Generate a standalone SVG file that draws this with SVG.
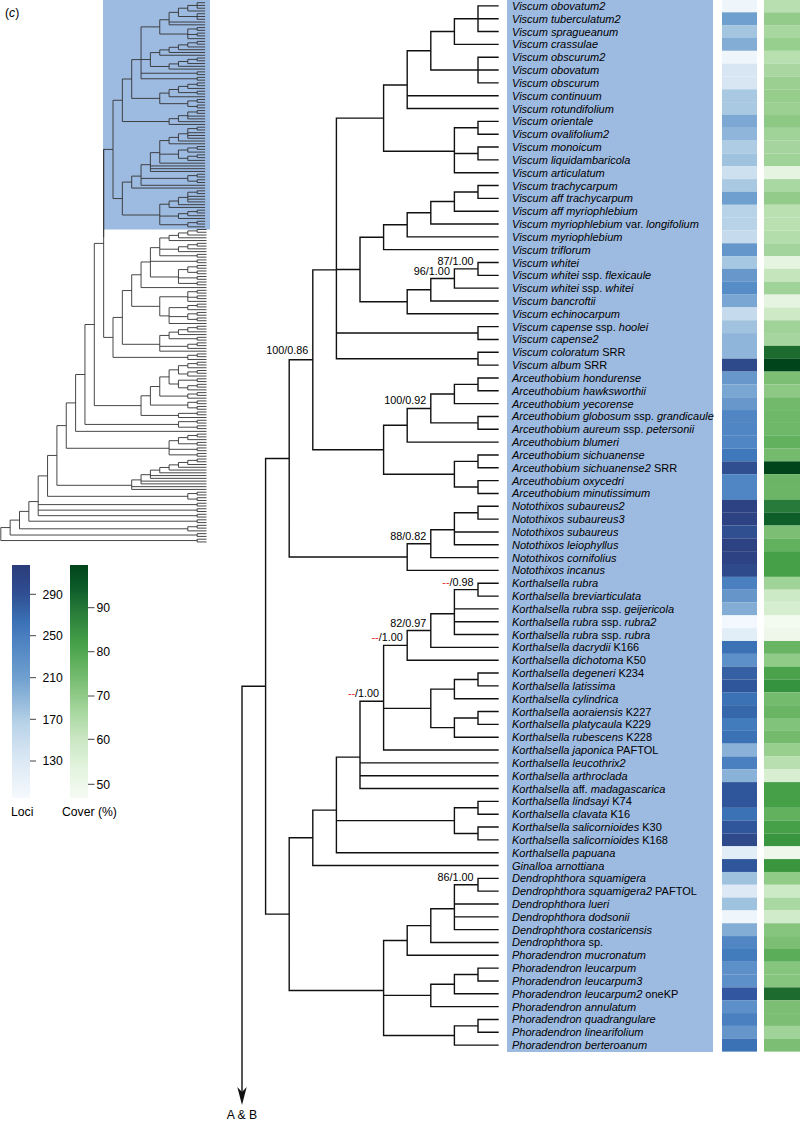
<svg xmlns="http://www.w3.org/2000/svg" width="800" height="1121" viewBox="0 0 800 1121">
<style>
.tx{font-family:"Liberation Sans",Arial,sans-serif;font-size:11px;font-style:italic;fill:#000}
.u{font-style:normal}
.sl{font-family:"Liberation Sans",Arial,sans-serif;font-size:10.8px;fill:#000;text-anchor:end}
.rd{fill:#e3221b}
.lg{font-family:"Liberation Sans",Arial,sans-serif;font-size:12.2px;fill:#000}
.tick{stroke:#444;stroke-width:1}
</style>
<defs>
<linearGradient id="gB" x1="0" y1="0" x2="0" y2="1">
<stop offset="0" stop-color="#2b3c7a"/><stop offset="0.12" stop-color="#2f4e91"/><stop offset="0.24" stop-color="#3a70b5"/><stop offset="0.31" stop-color="#4a80c0"/><stop offset="0.48" stop-color="#6f9fcf"/><stop offset="0.59" stop-color="#96bbdc"/><stop offset="0.68" stop-color="#b8d3e8"/><stop offset="0.82" stop-color="#d8e6f3"/><stop offset="1" stop-color="#f5f9fd"/>
</linearGradient>
<linearGradient id="gG" x1="0" y1="0" x2="0" y2="1">
<stop offset="0" stop-color="#00441b"/><stop offset="0.107" stop-color="#0e5e2a"/><stop offset="0.206" stop-color="#2a7d3a"/><stop offset="0.335" stop-color="#45a048"/><stop offset="0.48" stop-color="#74bb6e"/><stop offset="0.608" stop-color="#a0d398"/><stop offset="0.737" stop-color="#c8e6c0"/><stop offset="0.866" stop-color="#e2f3dd"/><stop offset="1" stop-color="#f5fbf3"/>
</linearGradient>
<path id="C2" d="M-9.35 0H0M-9.35 2.765H0M-9.35 0V2.765"/>
<path id="P3" d="M-9.35 0H0M-9.35 2.765H0M-9.35 0V2.765M-18.7 1.383H-9.35M-18.7 5.53H0M-18.7 1.383V5.53"/>
<path id="P4" d="M-9.35 0H0M-9.35 2.765H0M-9.35 0V2.765M-18.7 1.383H-9.35M-18.7 5.53H0M-18.7 1.383V5.53M-28.05 3.456H-18.7M-28.05 8.295H0M-28.05 3.456V8.295"/>
<path id="P5" d="M-9.35 0H0M-9.35 2.765H0M-9.35 0V2.765M-18.7 1.383H-9.35M-18.7 5.53H0M-18.7 1.383V5.53M-28.05 3.456H-18.7M-28.05 8.295H0M-28.05 3.456V8.295M-37.4 5.876H-28.05M-37.4 11.06H0M-37.4 5.876V11.06"/>
<path id="Q4" d="M-9.35 0H0M-9.35 2.765H0M-9.35 0V2.765M-9.35 5.53H0M-9.35 8.295H0M-9.35 5.53V8.295M-18.7 1.383H-9.35M-18.7 6.913H-9.35M-18.7 1.383V6.913"/>
</defs>

<rect x="0" y="0" width="800" height="1121" fill="#fff"/>

<!-- thumbnail -->
<g id="thumbnail">
<rect x="103" y="0" width="107" height="229.5" fill="#9dbae1"/>
<text class="lg" x="5" y="17">(<tspan font-style="italic">c</tspan>)</text>
</g>

<!-- main background -->
<rect id="clade-bg" x="507" y="0" width="206" height="1052" fill="#9dbae1"/>

<g id="connectors" fill="none">
<g stroke="#111" stroke-width="1.4" stroke-linecap="square">
<path id="tree" vector-effect="non-scaling-stroke" d="M478 5.9V31.56M454.4 18.73V44.39M478 57.22V82.88M430.8 31.56V70.05M407.2 50.805V108.54M478 121.37V134.2M478 147.03V159.86M454.4 127.785V172.69M383.6 85.02V151.31M478 185.52V198.35M454.4 191.935V211.18M430.8 201.56V224.01M407.2 212.785V236.84M383.6 224.81V249.67M478 262.5V275.33M454.4 268.915V288.16M430.8 278.54V300.99M407.2 289.765V313.82M360 237.24V301.79M478 326.65V339.48M478 352.31V365.14M336.4 118.165V358.725M478 377.97V390.8M454.4 384.385V403.63M478 416.46V429.29M430.8 394.01V422.875M407.2 408.44V442.12M478 454.95V467.78M478 480.61V493.44M454.4 461.365V487.025M383.6 425.28V474.195M312.8 269.87V449.74M478 506.27V519.1M454.4 512.685V544.76M430.8 529.79V557.59M407.2 543.69V570.42M289.2 359.805V557.055M478 583.25V596.08M454.4 589.665V634.57M430.8 613.72V647.4M407.2 630.56V660.23M478 673.06V685.89M454.4 679.475V698.72M478 711.55V724.38M454.4 717.965V737.21M430.8 689.1V727.59M383.6 645.395V750.04M360 701.26V788.53M478 801.36V814.19M478 827.02V839.85M454.4 807.775V833.435M336.4 757.09V852.68M312.8 810.125V865.51M478 878.34V891.17M454.4 884.755V929.66M430.8 908.81V942.49M407.2 925.65V955.32M478 968.15V980.98M454.4 974.565V993.81M430.8 984.19V1006.64M478 1019.47V1032.3M454.4 1025.885V1045.13M383.6 940.485V1035.51M289.2 837.82V990.47M265.6 458.43V914.145M242 686.29V1093
M454.4 18.73H478M430.8 31.56H454.4M430.8 70.05H478M407.2 50.805H430.8M383.6 85.02H407.2M454.4 127.785H478M454.4 153.445H478M383.6 151.31H454.4M336.4 118.165H383.6M454.4 191.935H478M430.8 201.56H454.4M407.2 212.785H430.8M383.6 224.81H407.2M360 237.24H383.6M454.4 268.915H478M430.8 278.54H454.4M407.2 289.765H430.8M360 301.79H407.2M336.4 269.515H360M336.4 333.065H478M336.4 358.725H478M312.8 269.87H336.4M454.4 384.385H478M430.8 394.01H454.4M430.8 422.875H478M407.2 408.44H430.8M383.6 425.28H407.2M454.4 461.365H478M454.4 487.025H478M383.6 474.195H454.4M312.8 449.74H383.6M289.2 359.805H312.8M454.4 512.685H478M430.8 529.79H454.4M407.2 543.69H430.8M289.2 557.055H407.2M265.6 458.43H289.2M454.4 589.665H478M430.8 613.72H454.4M407.2 630.56H430.8M383.6 645.395H407.2M454.4 679.475H478M430.8 689.1H454.4M454.4 717.965H478M430.8 727.59H454.4M383.6 708.345H430.8M360 701.26H383.6M336.4 757.09H360M454.4 807.775H478M454.4 833.435H478M336.4 820.605H454.4M312.8 810.125H336.4M289.2 837.82H312.8M454.4 884.755H478M430.8 908.81H454.4M407.2 925.65H430.8M383.6 940.485H407.2M454.4 974.565H478M430.8 984.19H454.4M383.6 995.415H430.8M454.4 1025.885H478M383.6 1035.51H454.4M289.2 990.47H383.6M265.6 914.145H289.2M242 686.29H265.6
M478 5.9H498M478 18.73H498M478 31.56H498M454.4 44.39H498M478 57.22H498M478 70.05H498M478 82.88H498M407.2 95.71H498M407.2 108.54H498M478 121.37H498M478 134.2H498M478 147.03H498M478 159.86H498M454.4 172.69H498M478 185.52H498M478 198.35H498M454.4 211.18H498M430.8 224.01H498M407.2 236.84H498M383.6 249.67H498M478 262.5H498M478 275.33H498M454.4 288.16H498M430.8 300.99H498M407.2 313.82H498M478 326.65H498M478 339.48H498M478 352.31H498M478 365.14H498M478 377.97H498M478 390.8H498M454.4 403.63H498M478 416.46H498M478 429.29H498M407.2 442.12H498M478 454.95H498M478 467.78H498M478 480.61H498M478 493.44H498M478 506.27H498M478 519.1H498M454.4 531.93H498M454.4 544.76H498M430.8 557.59H498M407.2 570.42H498M478 583.25H498M478 596.08H498M454.4 608.91H498M454.4 621.74H498M454.4 634.57H498M430.8 647.4H498M407.2 660.23H498M478 673.06H498M478 685.89H498M454.4 698.72H498M478 711.55H498M478 724.38H498M454.4 737.21H498M383.6 750.04H498M360 762.87H498M360 775.7H498M360 788.53H498M478 801.36H498M478 814.19H498M478 827.02H498M478 839.85H498M336.4 852.68H498M312.8 865.51H498M478 878.34H498M478 891.17H498M454.4 904H498M454.4 916.83H498M454.4 929.66H498M430.8 942.49H498M407.2 955.32H498M478 968.15H498M478 980.98H498M454.4 993.81H498M430.8 1006.64H498M478 1019.47H498M478 1032.3H498M454.4 1045.13H498"/>
</g>
<polygon id="arrowhead" points="242,1105 237.3,1087 242,1092 246.7,1087" fill="#111"/>
<g id="thumb-tree" stroke="#333" stroke-width="0.9">
<use href="#tree" transform="matrix(0.3962 0 0 0.21566 7.77 1.406)"/>
<path d="M94.3 243.4H103.65M103.65 149.4V337.4M103.65 337.4H113M113 317.43V357.38M113 317.43H122.35M113 357.38H187.8M122.35 290.55V344.3M122.35 290.55H131.7M122.35 344.3H159.75M131.7 274.77V306.34M131.7 274.77H141.05M131.7 306.34H159.75M141.05 261.97V287.565M141.05 261.97H150.4M141.05 287.565H206.5M150.4 247.65V276.97M150.4 247.65H159.75M150.4 261.3H197.15M150.4 276.97H178.45M159.75 237.97V255.77M159.75 237.97H169.1M159.75 249.2H178.45M159.75 255.77H197.15M178.45 269.59V283.42M178.45 269.59H187.8M178.45 277.89H197.15M178.45 283.42H197.15M159.75 296.78V315.9M159.75 296.78H187.8M159.75 315.9H169.1M187.8 291.71V301.39M187.8 291.71H197.15M187.8 297.24H197.15M187.8 301.39H206.5M169.1 307.61V323.51M169.1 307.61H187.8M169.1 316.6H187.8M169.1 323.51H206.5M159.75 335.43V351.16M159.75 335.43H169.1M159.75 346.32H187.8M159.75 351.16H206.5M169.1 332.15V338.72M169.1 332.15H178.45M169.1 338.72H197.15
M94.3 243.4V405.6M94.3 405.6H141.05M141.05 395.8V415.45M141.05 395.8H150.4M141.05 415.45H178.45M150.4 386.5V405.08M150.4 386.5H159.75M150.4 405.08H187.8M159.75 376.9V396.09M159.75 376.9H169.1M159.75 396.09H187.8M169.1 369.83V384M169.1 369.83H178.45M169.1 384H178.45M178.45 365.68V373.97M178.45 365.68H187.8M178.45 373.97H187.8M178.45 380.19V387.8M178.45 380.19H197.15M178.45 387.8H187.8M178.45 413.37V417.52M178.45 413.37H197.15M178.45 417.52H206.5
M84.95 324.5V424.43M84.95 324.5H94.3M84.95 424.43H178.45M178.45 421.67V427.2M178.45 421.67H197.15M178.45 427.2H197.15M75.6 374.5V431.345M75.6 374.5H84.95M75.6 431.345H206.5M169.1 440.68V454.85M169.1 440.68H178.45M169.1 449.32H197.15M169.1 454.85H197.15M178.45 437.57V443.79M178.45 437.57H187.8M178.45 443.79H197.15M187.8 435.49V439.64M187.8 435.49H197.15M187.8 439.64H206.5M197.15 434.11V436.875M197.15 434.11H206.5M197.15 436.875H206.5M66.25 402.9V448.28M66.25 402.9H75.6M66.25 448.28H169.1
M197.15 459V461.76M197.15 459H206.5M197.15 461.76H206.5M187.8 460.38V464.525M187.8 460.38H197.15M187.8 464.525H206.5M178.45 462.45V467.29M178.45 462.45H187.8M178.45 467.29H206.5M169.1 464.87V470.055M169.1 464.87H178.45M169.1 470.055H206.5M159.75 467.46V472.82M159.75 467.46H169.1M159.75 472.82H206.5M150.4 470.14V478.35M150.4 470.14H159.75M150.4 475.585H206.5M150.4 478.35H206.5M141.05 474.69V483.88M141.05 474.69H150.4M141.05 481.115H206.5M141.05 483.88H206.5M131.7 479.9V489.41M131.7 479.9H141.05M131.7 486.645H206.5M131.7 489.41H206.5
M56.9 425.6V485.3M56.9 425.6H66.25M56.9 485.3H131.7M47.55 455.45V496.32M47.55 455.45H56.9M47.55 496.32H187.8M38.2 475.9V515.68M38.2 475.9H47.55M38.2 504.62H197.15M38.2 510.15H197.15M38.2 515.68H197.15M28.85 501.59V521.21M28.85 501.59H38.2M28.85 521.21H197.15M19.5 511.4V528.81M19.5 511.4H28.85M19.5 528.81H187.8M10.15 520.1V535.03M10.15 520.1H19.5M10.15 535.03H197.15M0.8 527.57V540.56M0.8 527.57H10.15M0.8 540.56H197.15"/>
<use href="#P5" x="206.5" y="229.5"/>
<use href="#P4" x="206.5" y="243.325"/><use href="#P4" x="206.5" y="326.275"/>
<use href="#C2" x="206.5" y="254.385"/><use href="#C2" x="206.5" y="259.915"/><use href="#C2" x="206.5" y="276.505"/><use href="#C2" x="206.5" y="282.035"/><use href="#C2" x="206.5" y="290.33"/><use href="#C2" x="206.5" y="295.86"/><use href="#C2" x="206.5" y="337.335"/><use href="#C2" x="206.5" y="378.81"/><use href="#C2" x="206.5" y="411.99"/><use href="#C2" x="206.5" y="420.285"/><use href="#C2" x="206.5" y="425.815"/><use href="#C2" x="206.5" y="442.405"/><use href="#C2" x="206.5" y="447.935"/><use href="#C2" x="206.5" y="453.465"/><use href="#C2" x="206.5" y="503.235"/><use href="#C2" x="206.5" y="508.765"/><use href="#C2" x="206.5" y="514.295"/><use href="#C2" x="206.5" y="519.825"/><use href="#C2" x="206.5" y="533.65"/><use href="#C2" x="206.5" y="539.18"/>
<use href="#Q4" x="206.5" y="265.445"/><use href="#Q4" x="206.5" y="312.45"/><use href="#Q4" x="206.5" y="400.93"/><use href="#Q4" x="206.5" y="492.175"/>
<use href="#P3" x="206.5" y="304.155"/><use href="#P3" x="206.5" y="342.865"/><use href="#P3" x="206.5" y="353.925"/><use href="#P3" x="206.5" y="362.22"/><use href="#P3" x="206.5" y="370.515"/><use href="#P3" x="206.5" y="384.34"/><use href="#P3" x="206.5" y="392.635"/><use href="#P3" x="206.5" y="525.355"/>
</g>
</g>

<g id="support-labels">
<text class="sl" x="473.5" y="265">87/1.00</text>
<text class="sl" x="449.9" y="274.5">96/1.00</text>
<text class="sl" x="308.3" y="353.5">100/0.86</text>
<text class="sl" x="426.3" y="404.4">100/0.92</text>
<text class="sl" x="426.3" y="539.7">88/0.82</text>
<text class="sl" x="473.5" y="585.7"><tspan class="rd">--</tspan>/0.98</text>
<text class="sl" x="426.3" y="626.6">82/0.97</text>
<text class="sl" x="402.7" y="641.4"><tspan class="rd">--</tspan>/1.00</text>
<text class="sl" x="379.1" y="697.3"><tspan class="rd">--</tspan>/1.00</text>
<text class="sl" x="473.5" y="880.8">86/1.00</text>
</g>

<g id="taxa">
<g id="t0" transform="translate(0,5.9)"><text class="tx" x="512" y="4">Viscum obovatum2</text><rect x="722" y="-6.42" width="35" height="12.9" fill="#eef5fb"/><rect x="764" y="-6.42" width="36" height="12.9" fill="#b8dfb0"/></g>
<g id="t1" transform="translate(0,18.73)"><text class="tx" x="512" y="4">Viscum tuberculatum2</text><rect x="722" y="-6.42" width="35" height="12.9" fill="#6f9fcf"/><rect x="764" y="-6.42" width="36" height="12.9" fill="#93cc8a"/></g>
<g id="t2" transform="translate(0,31.56)"><text class="tx" x="512" y="4">Viscum spragueanum</text><rect x="722" y="-6.42" width="35" height="12.9" fill="#a3c5e0"/><rect x="764" y="-6.42" width="36" height="12.9" fill="#a8d8a0"/></g>
<g id="t3" transform="translate(0,44.39)"><text class="tx" x="512" y="4">Viscum crassulae</text><rect x="722" y="-6.42" width="35" height="12.9" fill="#84add6"/><rect x="764" y="-6.42" width="36" height="12.9" fill="#97cf8f"/></g>
<g id="t4" transform="translate(0,57.22)"><text class="tx" x="512" y="4">Viscum obscurum2</text><rect x="722" y="-6.42" width="35" height="12.9" fill="#eef5fb"/><rect x="764" y="-6.42" width="36" height="12.9" fill="#b8dfb0"/></g>
<g id="t5" transform="translate(0,70.05)"><text class="tx" x="512" y="4">Viscum obovatum</text><rect x="722" y="-6.42" width="35" height="12.9" fill="#d8e6f3"/><rect x="764" y="-6.42" width="36" height="12.9" fill="#a9d6a1"/></g>
<g id="t6" transform="translate(0,82.88)"><text class="tx" x="512" y="4">Viscum obscurum</text><rect x="722" y="-6.42" width="35" height="12.9" fill="#d8e6f3"/><rect x="764" y="-6.42" width="36" height="12.9" fill="#9acf91"/></g>
<g id="t7" transform="translate(0,95.71)"><text class="tx" x="512" y="4">Viscum continuum</text><rect x="722" y="-6.42" width="35" height="12.9" fill="#a9c9e2"/><rect x="764" y="-6.42" width="36" height="12.9" fill="#96cd8c"/></g>
<g id="t8" transform="translate(0,108.54)"><text class="tx" x="512" y="4">Viscum rotundifolium</text><rect x="722" y="-6.42" width="35" height="12.9" fill="#a9c9e2"/><rect x="764" y="-6.42" width="36" height="12.9" fill="#9bd092"/></g>
<g id="t9" transform="translate(0,121.37)"><text class="tx" x="512" y="4">Viscum orientale</text><rect x="722" y="-6.42" width="35" height="12.9" fill="#7ea8d4"/><rect x="764" y="-6.42" width="36" height="12.9" fill="#8dc985"/></g>
<g id="t10" transform="translate(0,134.2)"><text class="tx" x="512" y="4">Viscum ovalifolium2</text><rect x="722" y="-6.42" width="35" height="12.9" fill="#8fb6da"/><rect x="764" y="-6.42" width="36" height="12.9" fill="#9fd397"/></g>
<g id="t11" transform="translate(0,147.03)"><text class="tx" x="512" y="4">Viscum monoicum</text><rect x="722" y="-6.42" width="35" height="12.9" fill="#aecde4"/><rect x="764" y="-6.42" width="36" height="12.9" fill="#a5d49e"/></g>
<g id="t12" transform="translate(0,159.86)"><text class="tx" x="512" y="4">Viscum liquidambaricola</text><rect x="722" y="-6.42" width="35" height="12.9" fill="#9fc2df"/><rect x="764" y="-6.42" width="36" height="12.9" fill="#a0d398"/></g>
<g id="t13" transform="translate(0,172.69)"><text class="tx" x="512" y="4">Viscum articulatum</text><rect x="722" y="-6.42" width="35" height="12.9" fill="#cde0ef"/><rect x="764" y="-6.42" width="36" height="12.9" fill="#e5f4e1"/></g>
<g id="t14" transform="translate(0,185.52)"><text class="tx" x="512" y="4">Viscum trachycarpum</text><rect x="722" y="-6.42" width="35" height="12.9" fill="#a9c9e2"/><rect x="764" y="-6.42" width="36" height="12.9" fill="#aad8a3"/></g>
<g id="t15" transform="translate(0,198.35)"><text class="tx" x="512" y="4">Viscum aff trachycarpum</text><rect x="722" y="-6.42" width="35" height="12.9" fill="#6f9fcf"/><rect x="764" y="-6.42" width="36" height="12.9" fill="#93cc8a"/></g>
<g id="t16" transform="translate(0,211.18)"><text class="tx" x="512" y="4">Viscum aff myriophlebium</text><rect x="722" y="-6.42" width="35" height="12.9" fill="#b8d3e8"/><rect x="764" y="-6.42" width="36" height="12.9" fill="#bae0b2"/></g>
<g id="t17" transform="translate(0,224.01)"><text class="tx" x="512" y="4">Viscum myriophlebium <tspan class="u">var.</tspan> longifolium</text><rect x="722" y="-6.42" width="35" height="12.9" fill="#b8d3e8"/><rect x="764" y="-6.42" width="36" height="12.9" fill="#bae0b2"/></g>
<g id="t18" transform="translate(0,236.84)"><text class="tx" x="512" y="4">Viscum myriophlebium</text><rect x="722" y="-6.42" width="35" height="12.9" fill="#c5dbed"/><rect x="764" y="-6.42" width="36" height="12.9" fill="#b4ddac"/></g>
<g id="t19" transform="translate(0,249.67)"><text class="tx" x="512" y="4">Viscum triflorum</text><rect x="722" y="-6.42" width="35" height="12.9" fill="#6496cb"/><rect x="764" y="-6.42" width="36" height="12.9" fill="#a4d49d"/></g>
<g id="t20" transform="translate(0,262.5)"><text class="tx" x="512" y="4">Viscum whitei</text><rect x="722" y="-6.42" width="35" height="12.9" fill="#a6c7e1"/><rect x="764" y="-6.42" width="36" height="12.9" fill="#e5f4e1"/></g>
<g id="t21" transform="translate(0,275.33)"><text class="tx" x="512" y="4">Viscum whitei <tspan class="u">ssp.</tspan> flexicaule</text><rect x="722" y="-6.42" width="35" height="12.9" fill="#6898cb"/><rect x="764" y="-6.42" width="36" height="12.9" fill="#c5e5bd"/></g>
<g id="t22" transform="translate(0,288.16)"><text class="tx" x="512" y="4">Viscum whitei <tspan class="u">ssp.</tspan> whitei</text><rect x="722" y="-6.42" width="35" height="12.9" fill="#578dc6"/><rect x="764" y="-6.42" width="36" height="12.9" fill="#a0d398"/></g>
<g id="t23" transform="translate(0,300.99)"><text class="tx" x="512" y="4">Viscum bancroftii</text><rect x="722" y="-6.42" width="35" height="12.9" fill="#7aa6d3"/><rect x="764" y="-6.42" width="36" height="12.9" fill="#e5f4e1"/></g>
<g id="t24" transform="translate(0,313.82)"><text class="tx" x="512" y="4">Viscum echinocarpum</text><rect x="722" y="-6.42" width="35" height="12.9" fill="#c5dbed"/><rect x="764" y="-6.42" width="36" height="12.9" fill="#cde9c6"/></g>
<g id="t25" transform="translate(0,326.65)"><text class="tx" x="512" y="4">Viscum capense <tspan class="u">ssp.</tspan> hoolei</text><rect x="722" y="-6.42" width="35" height="12.9" fill="#a1c3df"/><rect x="764" y="-6.42" width="36" height="12.9" fill="#a0d398"/></g>
<g id="t26" transform="translate(0,339.48)"><text class="tx" x="512" y="4">Viscum capense2</text><rect x="722" y="-6.42" width="35" height="12.9" fill="#8fb6da"/><rect x="764" y="-6.42" width="36" height="12.9" fill="#a6d59f"/></g>
<g id="t27" transform="translate(0,352.31)"><text class="tx" x="512" y="4">Viscum coloratum <tspan class="u">SRR</tspan></text><rect x="722" y="-6.42" width="35" height="12.9" fill="#8fb6da"/><rect x="764" y="-6.42" width="36" height="12.9" fill="#1e6b30"/></g>
<g id="t28" transform="translate(0,365.14)"><text class="tx" x="512" y="4">Viscum album <tspan class="u">SRR</tspan></text><rect x="722" y="-6.42" width="35" height="12.9" fill="#2f4a8a"/><rect x="764" y="-6.42" width="36" height="12.9" fill="#00441b"/></g>
<g id="t29" transform="translate(0,377.97)"><text class="tx" x="512" y="4">Arceuthobium hondurense</text><rect x="722" y="-6.42" width="35" height="12.9" fill="#6898cb"/><rect x="764" y="-6.42" width="36" height="12.9" fill="#7cbf74"/></g>
<g id="t30" transform="translate(0,390.8)"><text class="tx" x="512" y="4">Arceuthobium hawksworthii</text><rect x="722" y="-6.42" width="35" height="12.9" fill="#7aa6d3"/><rect x="764" y="-6.42" width="36" height="12.9" fill="#8dc985"/></g>
<g id="t31" transform="translate(0,403.63)"><text class="tx" x="512" y="4">Arceuthobium yecorense</text><rect x="722" y="-6.42" width="35" height="12.9" fill="#6898cb"/><rect x="764" y="-6.42" width="36" height="12.9" fill="#72b96b"/></g>
<g id="t32" transform="translate(0,416.46)"><text class="tx" x="512" y="4">Arceuthobium globosum <tspan class="u">ssp.</tspan> grandicaule</text><rect x="722" y="-6.42" width="35" height="12.9" fill="#4f86c3"/><rect x="764" y="-6.42" width="36" height="12.9" fill="#6fb86a"/></g>
<g id="t33" transform="translate(0,429.29)"><text class="tx" x="512" y="4">Arceuthobium aureum <tspan class="u">ssp.</tspan> petersonii</text><rect x="722" y="-6.42" width="35" height="12.9" fill="#4f86c3"/><rect x="764" y="-6.42" width="36" height="12.9" fill="#6fb86a"/></g>
<g id="t34" transform="translate(0,442.12)"><text class="tx" x="512" y="4">Arceuthobium blumeri</text><rect x="722" y="-6.42" width="35" height="12.9" fill="#4f86c3"/><rect x="764" y="-6.42" width="36" height="12.9" fill="#62b15f"/></g>
<g id="t35" transform="translate(0,454.95)"><text class="tx" x="512" y="4">Arceuthobium sichuanense</text><rect x="722" y="-6.42" width="35" height="12.9" fill="#4079bb"/><rect x="764" y="-6.42" width="36" height="12.9" fill="#74bb6e"/></g>
<g id="t36" transform="translate(0,467.78)"><text class="tx" x="512" y="4">Arceuthobium sichuanense2 <tspan class="u">SRR</tspan></text><rect x="722" y="-6.42" width="35" height="12.9" fill="#2f4f90"/><rect x="764" y="-6.42" width="36" height="12.9" fill="#00441b"/></g>
<g id="t37" transform="translate(0,480.61)"><text class="tx" x="512" y="4">Arceuthobium oxycedri</text><rect x="722" y="-6.42" width="35" height="12.9" fill="#4f86c3"/><rect x="764" y="-6.42" width="36" height="12.9" fill="#6db566"/></g>
<g id="t38" transform="translate(0,493.44)"><text class="tx" x="512" y="4">Arceuthobium minutissimum</text><rect x="722" y="-6.42" width="35" height="12.9" fill="#4f86c3"/><rect x="764" y="-6.42" width="36" height="12.9" fill="#6db566"/></g>
<g id="t39" transform="translate(0,506.27)"><text class="tx" x="512" y="4">Notothixos subaureus2</text><rect x="722" y="-6.42" width="35" height="12.9" fill="#2d4282"/><rect x="764" y="-6.42" width="36" height="12.9" fill="#277a3a"/></g>
<g id="t40" transform="translate(0,519.1)"><text class="tx" x="512" y="4">Notothixos subaureus3</text><rect x="722" y="-6.42" width="35" height="12.9" fill="#2d4282"/><rect x="764" y="-6.42" width="36" height="12.9" fill="#0e5e2a"/></g>
<g id="t41" transform="translate(0,531.93)"><text class="tx" x="512" y="4">Notothixos subaureus</text><rect x="722" y="-6.42" width="35" height="12.9" fill="#2f4f90"/><rect x="764" y="-6.42" width="36" height="12.9" fill="#7cbf74"/></g>
<g id="t42" transform="translate(0,544.76)"><text class="tx" x="512" y="4">Notothixos leiophyllus</text><rect x="722" y="-6.42" width="35" height="12.9" fill="#2d4282"/><rect x="764" y="-6.42" width="36" height="12.9" fill="#62b15f"/></g>
<g id="t43" transform="translate(0,557.59)"><text class="tx" x="512" y="4">Notothixos cornifolius</text><rect x="722" y="-6.42" width="35" height="12.9" fill="#2d4282"/><rect x="764" y="-6.42" width="36" height="12.9" fill="#45a048"/></g>
<g id="t44" transform="translate(0,570.42)"><text class="tx" x="512" y="4">Notothixos incanus</text><rect x="722" y="-6.42" width="35" height="12.9" fill="#2f4a8a"/><rect x="764" y="-6.42" width="36" height="12.9" fill="#45a048"/></g>
<g id="t45" transform="translate(0,583.25)"><text class="tx" x="512" y="4">Korthalsella rubra</text><rect x="722" y="-6.42" width="35" height="12.9" fill="#4a80c0"/><rect x="764" y="-6.42" width="36" height="12.9" fill="#a0d398"/></g>
<g id="t46" transform="translate(0,596.08)"><text class="tx" x="512" y="4">Korthalsella breviarticulata</text><rect x="722" y="-6.42" width="35" height="12.9" fill="#6595c9"/><rect x="764" y="-6.42" width="36" height="12.9" fill="#cdeac6"/></g>
<g id="t47" transform="translate(0,608.91)"><text class="tx" x="512" y="4">Korthalsella rubra <tspan class="u">ssp.</tspan> geijericola</text><rect x="722" y="-6.42" width="35" height="12.9" fill="#84add6"/><rect x="764" y="-6.42" width="36" height="12.9" fill="#d6eed0"/></g>
<g id="t48" transform="translate(0,621.74)"><text class="tx" x="512" y="4">Korthalsella rubra <tspan class="u">ssp.</tspan> rubra2</text><rect x="722" y="-6.42" width="35" height="12.9" fill="#f2f8fd"/><rect x="764" y="-6.42" width="36" height="12.9" fill="#f3faf0"/></g>
<g id="t49" transform="translate(0,634.57)"><text class="tx" x="512" y="4">Korthalsella rubra <tspan class="u">ssp.</tspan> rubra</text><rect x="722" y="-6.42" width="35" height="12.9" fill="#e1eef8"/><rect x="764" y="-6.42" width="36" height="12.9" fill="#eef7ea"/></g>
<g id="t50" transform="translate(0,647.4)"><text class="tx" x="512" y="4">Korthalsella dacrydii <tspan class="u">K166</tspan></text><rect x="722" y="-6.42" width="35" height="12.9" fill="#3a72b5"/><rect x="764" y="-6.42" width="36" height="12.9" fill="#6ab564"/></g>
<g id="t51" transform="translate(0,660.23)"><text class="tx" x="512" y="4">Korthalsella dichotoma <tspan class="u">K50</tspan></text><rect x="722" y="-6.42" width="35" height="12.9" fill="#5d8fc8"/><rect x="764" y="-6.42" width="36" height="12.9" fill="#90cb87"/></g>
<g id="t52" transform="translate(0,673.06)"><text class="tx" x="512" y="4">Korthalsella degeneri <tspan class="u">K234</tspan></text><rect x="722" y="-6.42" width="35" height="12.9" fill="#3560a3"/><rect x="764" y="-6.42" width="36" height="12.9" fill="#4aa24b"/></g>
<g id="t53" transform="translate(0,685.89)"><text class="tx" x="512" y="4">Korthalsella latissima</text><rect x="722" y="-6.42" width="35" height="12.9" fill="#2f559a"/><rect x="764" y="-6.42" width="36" height="12.9" fill="#35933f"/></g>
<g id="t54" transform="translate(0,698.72)"><text class="tx" x="512" y="4">Korthalsella cylindrica</text><rect x="722" y="-6.42" width="35" height="12.9" fill="#3a72b5"/><rect x="764" y="-6.42" width="36" height="12.9" fill="#74bb6e"/></g>
<g id="t55" transform="translate(0,711.55)"><text class="tx" x="512" y="4">Korthalsella aoraiensis <tspan class="u">K227</tspan></text><rect x="722" y="-6.42" width="35" height="12.9" fill="#3567aa"/><rect x="764" y="-6.42" width="36" height="12.9" fill="#6ab564"/></g>
<g id="t56" transform="translate(0,724.38)"><text class="tx" x="512" y="4">Korthalsella platycaula <tspan class="u">K229</tspan></text><rect x="722" y="-6.42" width="35" height="12.9" fill="#427cbd"/><rect x="764" y="-6.42" width="36" height="12.9" fill="#82c37b"/></g>
<g id="t57" transform="translate(0,737.21)"><text class="tx" x="512" y="4">Korthalsella rubescens <tspan class="u">K228</tspan></text><rect x="722" y="-6.42" width="35" height="12.9" fill="#3a72b5"/><rect x="764" y="-6.42" width="36" height="12.9" fill="#74bb6e"/></g>
<g id="t58" transform="translate(0,750.04)"><text class="tx" x="512" y="4">Korthalsella japonica <tspan class="u">PAFTOL</tspan></text><rect x="722" y="-6.42" width="35" height="12.9" fill="#8ab1d7"/><rect x="764" y="-6.42" width="36" height="12.9" fill="#98cf8f"/></g>
<g id="t59" transform="translate(0,762.87)"><text class="tx" x="512" y="4">Korthalsella leucothrix2</text><rect x="722" y="-6.42" width="35" height="12.9" fill="#4a80c0"/><rect x="764" y="-6.42" width="36" height="12.9" fill="#b8dfb0"/></g>
<g id="t60" transform="translate(0,775.7)"><text class="tx" x="512" y="4">Korthalsella arthroclada</text><rect x="722" y="-6.42" width="35" height="12.9" fill="#8ab1d7"/><rect x="764" y="-6.42" width="36" height="12.9" fill="#d7eed1"/></g>
<g id="t61" transform="translate(0,788.53)"><text class="tx" x="512" y="4">Korthalsella <tspan class="u">aff.</tspan> madagascarica</text><rect x="722" y="-6.42" width="35" height="12.9" fill="#2f559a"/><rect x="764" y="-6.42" width="36" height="12.9" fill="#45a048"/></g>
<g id="t62" transform="translate(0,801.36)"><text class="tx" x="512" y="4">Korthalsella lindsayi <tspan class="u">K74</tspan></text><rect x="722" y="-6.42" width="35" height="12.9" fill="#2f559a"/><rect x="764" y="-6.42" width="36" height="12.9" fill="#45a048"/></g>
<g id="t63" transform="translate(0,814.19)"><text class="tx" x="512" y="4">Korthalsella clavata <tspan class="u">K16</tspan></text><rect x="722" y="-6.42" width="35" height="12.9" fill="#3a72b5"/><rect x="764" y="-6.42" width="36" height="12.9" fill="#62b15f"/></g>
<g id="t64" transform="translate(0,827.02)"><text class="tx" x="512" y="4">Korthalsella salicornioides <tspan class="u">K30</tspan></text><rect x="722" y="-6.42" width="35" height="12.9" fill="#2f559a"/><rect x="764" y="-6.42" width="36" height="12.9" fill="#45a048"/></g>
<g id="t65" transform="translate(0,839.85)"><text class="tx" x="512" y="4">Korthalsella salicornioides <tspan class="u">K168</tspan></text><rect x="722" y="-6.42" width="35" height="12.9" fill="#2f4a8a"/><rect x="764" y="-6.42" width="36" height="12.9" fill="#3a953f"/></g>
<g id="t66" transform="translate(0,852.68)"><text class="tx" x="512" y="4">Korthalsella papuana</text><rect x="722" y="-6.42" width="35" height="12.9" fill="#e1eef8"/><rect x="764" y="-6.42" width="36" height="12.9" fill="#eef7ea"/></g>
<g id="t67" transform="translate(0,865.51)"><text class="tx" x="512" y="4">Ginalloa arnottiana</text><rect x="722" y="-6.42" width="35" height="12.9" fill="#2f559a"/><rect x="764" y="-6.42" width="36" height="12.9" fill="#3a953f"/></g>
<g id="t68" transform="translate(0,878.34)"><text class="tx" x="512" y="4">Dendrophthora squamigera</text><rect x="722" y="-6.42" width="35" height="12.9" fill="#9fc2df"/><rect x="764" y="-6.42" width="36" height="12.9" fill="#90cb87"/></g>
<g id="t69" transform="translate(0,891.17)"><text class="tx" x="512" y="4">Dendrophthora squamigera2 <tspan class="u">PAFTOL</tspan></text><rect x="722" y="-6.42" width="35" height="12.9" fill="#dde9f5"/><rect x="764" y="-6.42" width="36" height="12.9" fill="#cdeac6"/></g>
<g id="t70" transform="translate(0,904)"><text class="tx" x="512" y="4">Dendrophthora lueri</text><rect x="722" y="-6.42" width="35" height="12.9" fill="#9fc2df"/><rect x="764" y="-6.42" width="36" height="12.9" fill="#aad8a3"/></g>
<g id="t71" transform="translate(0,916.83)"><text class="tx" x="512" y="4">Dendrophthora dodsonii</text><rect x="722" y="-6.42" width="35" height="12.9" fill="#eef5fb"/><rect x="764" y="-6.42" width="36" height="12.9" fill="#d0ebc9"/></g>
<g id="t72" transform="translate(0,929.66)"><text class="tx" x="512" y="4">Dendrophthora costaricensis</text><rect x="722" y="-6.42" width="35" height="12.9" fill="#84add6"/><rect x="764" y="-6.42" width="36" height="12.9" fill="#86c57e"/></g>
<g id="t73" transform="translate(0,942.49)"><text class="tx" x="512" y="4">Dendrophthora <tspan class="u">sp.</tspan></text><rect x="722" y="-6.42" width="35" height="12.9" fill="#4f86c3"/><rect x="764" y="-6.42" width="36" height="12.9" fill="#7cbf74"/></g>
<g id="t74" transform="translate(0,955.32)"><text class="tx" x="512" y="4">Phoradendron mucronatum</text><rect x="722" y="-6.42" width="35" height="12.9" fill="#427cbd"/><rect x="764" y="-6.42" width="36" height="12.9" fill="#5cad59"/></g>
<g id="t75" transform="translate(0,968.15)"><text class="tx" x="512" y="4">Phoradendron leucarpum</text><rect x="722" y="-6.42" width="35" height="12.9" fill="#5d8fc8"/><rect x="764" y="-6.42" width="36" height="12.9" fill="#86c57e"/></g>
<g id="t76" transform="translate(0,980.98)"><text class="tx" x="512" y="4">Phoradendron leucarpum3</text><rect x="722" y="-6.42" width="35" height="12.9" fill="#5d8fc8"/><rect x="764" y="-6.42" width="36" height="12.9" fill="#86c57e"/></g>
<g id="t77" transform="translate(0,993.81)"><text class="tx" x="512" y="4">Phoradendron leucarpum2 <tspan class="u">oneKP</tspan></text><rect x="722" y="-6.42" width="35" height="12.9" fill="#3356a0"/><rect x="764" y="-6.42" width="36" height="12.9" fill="#1e6b30"/></g>
<g id="t78" transform="translate(0,1006.64)"><text class="tx" x="512" y="4">Phoradendron annulatum</text><rect x="722" y="-6.42" width="35" height="12.9" fill="#5d8fc8"/><rect x="764" y="-6.42" width="36" height="12.9" fill="#7cbf74"/></g>
<g id="t79" transform="translate(0,1019.47)"><text class="tx" x="512" y="4">Phoradendron quadrangulare</text><rect x="722" y="-6.42" width="35" height="12.9" fill="#4a80c0"/><rect x="764" y="-6.42" width="36" height="12.9" fill="#7cbf74"/></g>
<g id="t80" transform="translate(0,1032.3)"><text class="tx" x="512" y="4">Phoradendron linearifolium</text><rect x="722" y="-6.42" width="35" height="12.9" fill="#6595c9"/><rect x="764" y="-6.42" width="36" height="12.9" fill="#a0d398"/></g>
<g id="t81" transform="translate(0,1045.13)"><text class="tx" x="512" y="4">Phoradendron berteroanum</text><rect x="722" y="-6.42" width="35" height="12.9" fill="#3a72b5"/><rect x="764" y="-6.42" width="36" height="12.9" fill="#7cbf74"/></g>
</g>

<g id="legend">
<rect x="12" y="565" width="18" height="233" fill="url(#gB)"/>
<rect x="70" y="565" width="18" height="233" fill="url(#gG)"/>
<path class="tick" d="M30 594.3H36M30 635.7H36M30 677.7H36M30 719.3H36M30 761H36M88 607.7H94.5M88 651.7H94.5M88 696H94.5M88 739.3H94.5M88 784.3H94.5"/>
<text class="lg" x="42.5" y="598.6">290</text>
<text class="lg" x="42.5" y="640">250</text>
<text class="lg" x="42.5" y="682">210</text>
<text class="lg" x="42.5" y="723.6">170</text>
<text class="lg" x="42.5" y="765.3">130</text>
<text class="lg" x="96.5" y="612">90</text>
<text class="lg" x="96.5" y="656">80</text>
<text class="lg" x="96.5" y="700.3">70</text>
<text class="lg" x="96.5" y="743.6">60</text>
<text class="lg" x="96.5" y="788.6">50</text>
<text class="lg" x="11" y="816">Loci</text>
<text class="lg" x="62" y="816">Cover (%)</text>
</g>

<g id="outgroup-label">
<text class="lg" x="242" y="1118.5" text-anchor="middle" font-size="14">A &amp; B</text>
</g>
</svg>
